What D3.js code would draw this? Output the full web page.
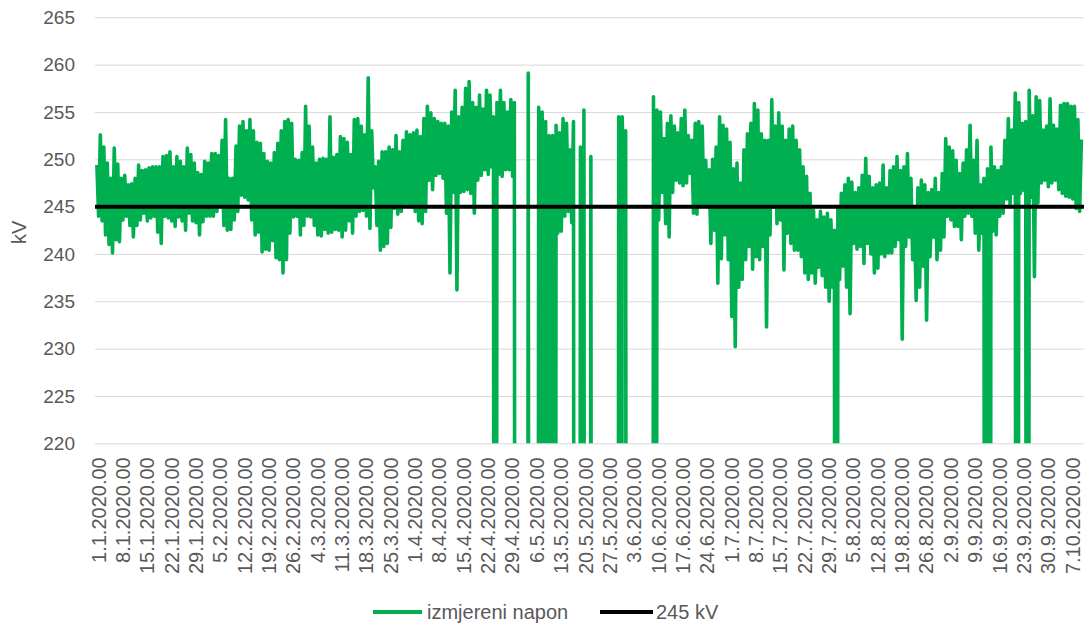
<!DOCTYPE html>
<html>
<head>
<meta charset="utf-8">
<script src="https://cdn.jsdelivr.net/npm/d3@7"></script>
<style>
  html, body { margin: 0; padding: 0; background: #ffffff; }
  svg { display: block; }
  text { font-family: "Liberation Sans", Arial, sans-serif; fill: #595959; }
</style>
</head>
<body>
<svg id="chart" width="1084" height="625"></svg>
<script>
// ---- DATA ----
// Daily maximum and minimum of the measured voltage (kV), day 0 = 1.1.2020.
// 0 marks periods where the measurement dropped out (line falls below the axis).
const dailyMax = [
 249.4,252.6,251.3,249.6,248.0,251.2,249.5,248.0,248.3,247.3,
 247.4,248.0,249.4,248.8,248.9,249.1,249.2,249.2,249.2,250.3,
 250.4,250.8,249.2,250.3,249.8,249.2,251.2,250.5,249.6,248.6,
 248.4,249.8,249.6,250.6,250.6,250.4,252.0,254.2,248.0,248.0,
 251.4,253.5,254.0,253.0,254.2,253.0,251.8,251.7,250.6,249.8,
 249.6,250.7,251.7,253.0,254.0,254.2,253.8,250.0,249.9,250.7,
 255.6,253.5,251.3,249.6,250.0,250.1,250.0,254.5,250.2,250.5,
 252.4,252.2,251.8,250.5,254.2,254.3,253.5,252.6,258.6,253.0,
 249.2,249.8,250.8,250.8,251.3,251.0,252.5,250.8,252.0,252.9,
 252.6,252.8,253.1,252.4,254.3,255.6,254.9,254.3,254.0,253.8,
 253.8,253.5,255.0,257.3,254.5,255.5,257.5,258.2,256.0,255.5,
 256.8,255.3,257.3,256.8,254.5,256.0,257.3,256.0,255.0,256.3,
 256.0,0,0,0,259.1,0,0,255.5,255.0,254.0,
 252.5,252.5,253.6,252.8,254.3,253.8,251.0,254.0,0,251.3,
 255.2,0,250.3,0,0,0,0,0,0,0,
 254.5,254.5,253.0,0,0,0,0,0,0,0,
 256.6,255.2,255.0,252.2,253.8,254.6,253.5,252.8,254.3,255.2,
 252.5,252.0,253.8,254.0,253.5,249.9,248.9,250.0,251.3,254.5,
 253.6,253.2,251.8,249.0,249.6,247.5,251.0,252.7,253.8,255.9,
 255.2,252.7,252.0,252.0,256.3,253.5,254.9,253.5,252.0,253.2,
 253.5,252.0,251.0,249.2,248.2,246.4,244.6,243.6,244.5,243.9,
 244.3,243.6,242.5,245.0,246.4,247.3,248.0,247.6,246.5,247.0,
 248.3,250.1,248.2,247.0,247.3,247.5,249.4,247.0,248.8,249.2,
 250.3,248.8,249.2,250.6,248.0,245.0,247.0,247.8,247.3,246.5,
 246.8,248.0,246.5,248.5,252.2,251.3,250.9,249.9,248.5,249.6,
 251.0,253.6,249.9,252.0,247.3,248.0,249.0,251.3,249.2,248.8,
 249.2,252.0,254.3,253.1,257.0,256.0,253.8,254.0,257.3,254.6,
 256.6,256.2,253.1,253.5,256.4,253.6,253.2,255.7,255.9,255.9,
 255.6,255.6,254.2,252.1
];
const dailyMin = [
 244.0,243.5,242.0,241.0,240.1,241.5,241.3,243.6,244.0,243.0,
 241.8,243.0,243.6,244.3,243.5,243.8,244.0,242.3,241.1,244.0,
 243.8,243.5,242.9,243.9,243.5,242.5,244.3,243.5,243.3,242.0,
 243.4,244.0,244.0,244.0,244.5,245.3,243.0,242.5,242.6,243.6,
 244.5,246.2,246.0,245.7,243.6,242.0,242.3,240.2,240.5,240.4,
 241.4,239.6,239.4,238.0,239.4,242.2,243.9,244.0,242.0,243.0,
 244.0,243.9,243.0,242.0,241.9,242.6,242.2,242.3,242.6,242.5,
 241.8,242.5,243.5,242.2,244.0,244.5,244.6,244.0,242.7,247.0,
 243.0,240.4,240.8,241.1,242.8,244.8,244.2,244.5,245.3,245.3,
 245.0,244.5,243.5,243.2,244.5,247.8,246.8,248.3,248.5,248.0,
 244.3,238.0,246.5,236.2,246.5,246.6,246.8,246.4,244.3,247.8,
 248.3,248.9,248.4,249.2,0,248.4,248.2,248.9,248.9,248.2,
 0,0,0,0,0,0,0,0,0,0,
 0,0,242.2,242.4,244.0,244.5,243.3,0,0,0,
 0,0,0,0,0,0,0,0,0,0,
 0,246.0,0,0,0,0,0,0,0,0,
 0,243.6,246.5,243.2,241.8,246.5,247.8,247.5,247.2,247.5,
 248.5,244.3,244.2,245.0,245.3,245.0,241.1,242.5,236.9,239.5,
 242.0,239.4,233.4,230.2,236.5,237.3,239.4,240.8,238.4,239.7,
 239.4,240.8,232.3,242.0,245.0,243.2,243.6,238.3,242.2,241.1,
 240.4,240.4,239.7,238.0,237.3,238.0,236.9,238.6,237.7,236.5,
 235.0,236.5,0,237.3,238.7,236.5,233.7,241.1,240.5,240.8,
 239.0,241.1,240.0,238.0,238.5,240.0,239.7,240.1,240.1,240.8,
 241.5,231.0,240.8,241.8,239.4,235.1,236.5,238.7,233.0,239.7,
 241.8,239.4,240.4,241.8,244.0,243.6,242.9,242.9,241.5,244.0,
 244.3,244.0,242.2,240.4,242.2,0,0,242.4,242.0,244.0,
 244.3,245.8,245.0,246.4,0,246.4,246.7,0,246.0,237.6,
 245.4,247.5,247.8,247.1,247.5,247.8,246.8,246.4,246.1,246.0,
 245.8,244.8,244.5
];
const xLabels = [
 "1.1.2020.00","8.1.2020.00","15.1.2020.00","22.1.2020.00","29.1.2020.00",
 "5.2.2020.00","12.2.2020.00","19.2.2020.00","26.2.2020.00","4.3.2020.00",
 "11.3.2020.00","18.3.2020.00","25.3.2020.00","1.4.2020.00","8.4.2020.00",
 "15.4.2020.00","22.4.2020.00","29.4.2020.00","6.5.2020.00","13.5.2020.00",
 "20.5.2020.00","27.5.2020.00","3.6.2020.00","10.6.2020.00","17.6.2020.00",
 "24.6.2020.00","1.7.2020.00","8.7.2020.00","15.7.2020.00","22.7.2020.00",
 "29.7.2020.00","5.8.2020.00","12.8.2020.00","19.8.2020.00","26.8.2020.00",
 "2.9.2020.00","9.9.2020.00","16.9.2020.00","23.9.2020.00","30.9.2020.00",
 "7.10.2020.00"
];
const labelStepDays = 7;
const yTicks = [220, 225, 230, 235, 240, 245, 250, 255, 260, 265];
const referenceLevel = 245;
const seriesNames = ["izmjereni napon", "245 kV"];
const seriesColors = ["#00b050", "#000000"];

// ---- CHART ----
const svg = d3.select("#chart");
const plot = { left: 95, right: 1084, top: 17.3, bottom: 443.3 };
const nDays = dailyMax.length;

const x = d3.scaleLinear().domain([0, nDays]).range([96, 1084]);
const y = d3.scaleLinear().domain([220, 265]).range([plot.bottom, plot.top]);

// gridlines + y tick labels
const yAxis = d3.axisLeft(y).tickValues(yTicks).tickSize(-(plot.right - plot.left)).tickPadding(20);
const gy = svg.append("g").attr("transform", `translate(${plot.left},0)`).call(yAxis);
gy.select(".domain").remove();
gy.selectAll(".tick line").attr("stroke", "#d9d9d9").attr("stroke-width", 1);
gy.selectAll(".tick text").attr("font-size", 19).attr("fill", "#595959")
  .style("font-family", '"Liberation Sans", Arial, sans-serif');

// y axis title
svg.append("text")
  .attr("transform", `translate(26,${(plot.top + plot.bottom) / 2 + 2}) rotate(-90)`)
  .attr("text-anchor", "middle")
  .attr("font-size", 20)
  .text("kV");

// x labels
const tickDays = xLabels.map((d, i) => i * labelStepDays);
const xAxis = d3.axisBottom(x).tickValues(tickDays).tickSize(0).tickFormat((d, i) => xLabels[i]);
const gx = svg.append("g").attr("transform", `translate(0,${plot.bottom})`).call(xAxis);
gx.select(".domain").remove();
gx.selectAll(".tick text")
  .attr("font-size", 20)
  .attr("fill", "#595959")
  .style("font-family", '"Liberation Sans", Arial, sans-serif')
  .attr("text-anchor", "end")
  .attr("dy", null)
  .attr("y", 0)
  .attr("transform", "translate(2,14) rotate(-90)")
  .attr("dominant-baseline", "central");

// clip for the measured line
svg.append("clipPath").attr("id", "plotClip")
  .append("rect").attr("x", plot.left).attr("y", plot.top - 5)
  .attr("width", plot.right - plot.left).attr("height", plot.bottom - plot.top + 5);

// measured series: each day goes up to its maximum and down to its minimum
const points = [];
dailyMax.forEach((v, i) => {
  points.push({ t: i + 0.25, v: v });
  points.push({ t: i + 0.75, v: dailyMin[i] });
});
const line = d3.line().x(d => x(d.t)).y(d => y(d.v));
svg.append("path")
  .datum(points)
  .attr("clip-path", "url(#plotClip)")
  .attr("fill", "none")
  .attr("stroke", seriesColors[0])
  .attr("stroke-width", 3.6)
  .attr("stroke-linejoin", "round")
  .attr("d", line);

// 245 kV reference line
svg.append("path")
  .datum([{ t: 0, v: referenceLevel }, { t: nDays, v: referenceLevel }])
  .attr("fill", "none")
  .attr("stroke", seriesColors[1])
  .attr("stroke-width", 4)
  .attr("d", d3.line().x(d => d.t === 0 ? plot.left : plot.right).y(d => y(d.v)));

// legend
const legend = svg.append("g").attr("transform", "translate(0,612)");
const legendItems = [
  { x0: 373, x1: 422, tx: 427 },
  { x0: 600, x1: 653, tx: 656 }
];
seriesNames.forEach((name, i) => {
  const it = legendItems[i];
  legend.append("line").attr("x1", it.x0).attr("x2", it.x1).attr("y1", 0).attr("y2", 0)
    .attr("stroke", seriesColors[i]).attr("stroke-width", 4);
  legend.append("text").attr("x", it.tx).attr("y", 0).attr("dominant-baseline", "central")
    .attr("font-size", 20).text(name);
});
</script>
</body>
</html>
